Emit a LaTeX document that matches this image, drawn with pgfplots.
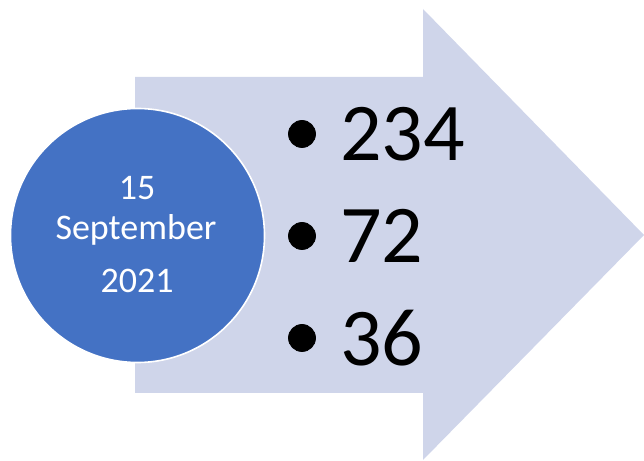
\documentclass[border=0pt]{standalone}
\usepackage{pgfplots}
\pgfplotsset{compat=1.18}
\usepackage{fontspec}
\setmainfont{Carlito}
\definecolor{arrowfill}{HTML}{CFD5EA}
\definecolor{circfill}{HTML}{4472C4}
\begin{document}
\begin{tikzpicture}
\begin{axis}[
  set layers,
  scale only axis, width=322pt, height=230.5pt,
  xmin=0, xmax=644, ymin=0, ymax=461,
  axis lines=none, clip=false,
]
\path (axis cs:0,0) rectangle (axis cs:644,461);
% arrow shape
\addplot[fill=arrowfill, draw=none] coordinates {
  (135,384) (423,384) (423,452) (644,226) (423,1) (423,68) (135,68)
} -- cycle;
% circle
\addplot[only marks, mark=*, mark size=63.5pt,
  mark options={fill=circfill, draw=white, line width=0.8pt}]
  coordinates {(137.5,225.5)};
% bullets with values
\addplot[only marks, mark=*, mark size=6.75pt, black,
  nodes near coords, point meta=explicit symbolic,
  nodes near coords style={anchor=west, xshift=19pt, inner sep=0pt,
    font=\fontsize{41}{50}\selectfont, text=black}]
  table[meta=label] {
x y label
302 327 234
302 225 72
302 123 36
};
\begin{pgfonlayer}{axis foreground}
\node[anchor=base, text=white, font=\fontsize{18}{22}\selectfont, inner sep=0pt] at (axis cs:137,261) {15};
\node[anchor=base, text=white, font=\fontsize{18}{22}\selectfont, inner sep=0pt] at (axis cs:136,221) {September};
\node[anchor=base, text=white, font=\fontsize{18}{22}\selectfont, inner sep=0pt] at (axis cs:137,168) {2021};
\end{pgfonlayer}
\end{axis}
\end{tikzpicture}
\end{document}
